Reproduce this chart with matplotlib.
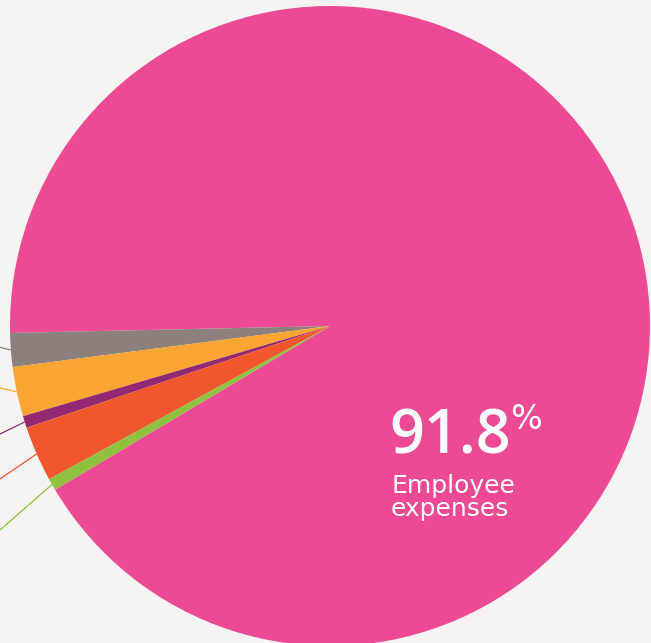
import numpy as np
import matplotlib
matplotlib.use("Agg")
from matplotlib import pyplot as plt

## data ##
labels = ["Employee expenses", "Other 1", "Other 2", "Other 3", "Other 4", "Other 5"]
shares = [91.8, 1.7, 2.5, 0.6, 2.8, 0.6]
colors = ["#EC4B93", "#8C807C", "#F9A533", "#922A73", "#F0572D", "#8DC13F"]

## layout (pixels of the 651x643 picture) ##
W, H = 651, 643
cx, cy, R = 330, 326, 320          # pie centre and radius
start_gray = 181.25                 # angle where the first small slice begins
# where each leader line leaves the picture (y pixel at left edge), small slices only
leader_exit_y = [347.3, 388, 434, 479, 530]

bg = "#F5F4F2"

def px(x, y):
    # pixel -> data coordinates
    return (x - cx) / R, (cy - y) / R

fig = plt.figure(figsize=(W / 100, H / 100), dpi=100, facecolor=bg)
ax = fig.add_axes([0, 0, 1, 1])
ax.set_facecolor(bg)

startangle = start_gray - shares[0] / sum(shares) * 360
wedges, _ = ax.pie(shares, colors=colors, startangle=startangle, counterclock=True,
                   radius=1.0, center=(0, 0), wedgeprops=dict(linewidth=0))

x0, y0 = px(0, H)
x1, y1 = px(W, 0)
ax.set_xlim(x0, x1)
ax.set_ylim(y0, y1)
ax.set_aspect("equal")
ax.axis("off")

# leader lines of the small slices (labels sit off the left edge)
for w, ey, c in zip(wedges[1:], leader_exit_y, colors[1:]):
    mid = np.deg2rad((w.theta1 + w.theta2) / 2)
    sx, sy = np.cos(mid), np.sin(mid)
    ex, eyd = px(0, ey)
    # extend past the edge a little
    ex2 = sx + 1.5 * (ex - sx)
    ey2 = sy + 1.5 * (eyd - sy)
    ax.plot([sx, ex2], [sy, ey2], color=c, lw=0.9, solid_capstyle="butt", zorder=0)

# main label
tx, ty = px(389, 453)
t = ax.text(tx, ty, f"{shares[0]:.1f}", color="white", fontsize=44, fontweight="semibold",
            family="Open Sans", ha="left", va="baseline")
fig.canvas.draw()
bb = t.get_window_extent()
ax.annotate("%", xy=(bb.x1, bb.y1), xycoords="figure pixels", xytext=(0, 2),
            textcoords="offset points", color="white", fontsize=24, family="DejaVu Sans",
            ha="left", va="top")
ex_, ey_ = px(391, 493)
ax.text(ex_, ey_, "Employee", color="white", fontsize=18, family="DejaVu Sans",
        ha="left", va="baseline")
ex_, ey_ = px(391, 516)
ax.text(ex_, ey_, "expenses", color="white", fontsize=18, family="DejaVu Sans",
        ha="left", va="baseline")

plt.savefig("out.png", dpi=100, facecolor=bg)
plt.close()
